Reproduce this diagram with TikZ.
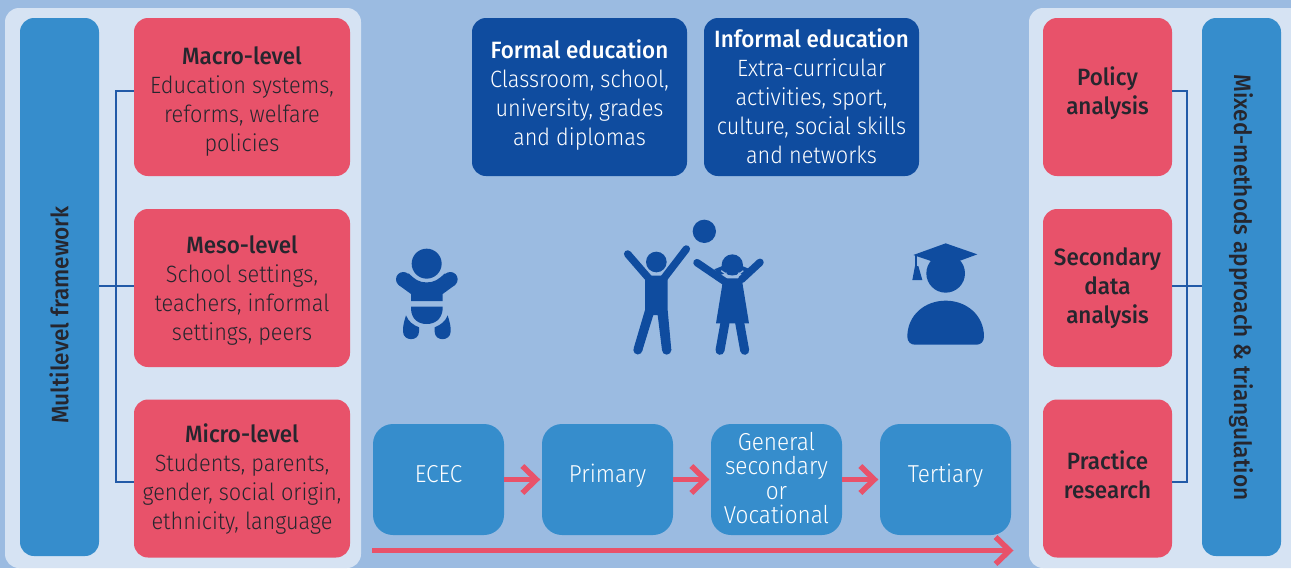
\documentclass[tikz,border=0pt]{standalone}
\usepackage{fontspec}
\setmainfont{Fira Sans Light}[FakeStretch=0.92,BoldFont={Fira Sans Medium},BoldFeatures={FakeStretch=0.95}]
\usetikzlibrary{arrows.meta}
\definecolor{bgc}{HTML}{9BBBE1}
\definecolor{panelc}{HTML}{D6E3F3}
\definecolor{redc}{HTML}{E8526A}
\definecolor{bluec}{HTML}{368DCC}
\definecolor{darkc}{HTML}{0F4C9F}
\definecolor{inkc}{HTML}{26262E}
\tikzset{
  box/.style={inner sep=0pt,rounded corners=14pt,align=center,font=\fontsize{23.6}{29}\selectfont,text depth=0pt},
  redbox/.style={box,fill=redc,text=inkc},
  darkbox/.style={box,fill=darkc,text=white},
  stagebox/.style={box,fill=bluec,text=white,minimum width=131pt,minimum height=111pt,rounded corners=20pt,font=\fontsize{24.5}{24.4}\selectfont,text depth=12pt},
  sidebox/.style={box,fill=bluec,minimum width=79pt,minimum height=538pt},
  sidetext/.style={text=inkc,font=\fontsize{23.8}{29}\selectfont\bfseries},
  link/.style={draw=darkc!92!white,line width=2.3pt},
  flow/.style={draw=redc,line width=5.5pt,shorten >=1.5pt,-{Straight Barb[length=14pt,width=27pt,line width=5.5pt]}},
  icon/.style={fill=darkc,draw=none},
  limb/.style={draw=darkc,line cap=round}
}
\begin{document}
\begin{tikzpicture}[x=1pt,y=-1pt]
\useasboundingbox (0,0) rectangle (1291,568);
\fill[bgc] (0,0) rectangle (1291,568);
\fill[panelc,rounded corners=14pt] (5,8) rectangle (361,568);
\fill[panelc,rounded corners=14pt] (1029,8) rectangle (1310,568);

\node[sidebox] (multi) at (59.5,287) {};
\node[redbox,minimum width=216pt,minimum height=158pt] (macro) at (242,97) {\rule{0pt}{21.5pt}\textbf{Macro-level}\\Education systems,\\reforms, welfare\\policies};
\node[redbox,minimum width=216pt,minimum height=158pt] (meso) at (242,288) {\textbf{Meso-level}\\School settings,\\teachers, informal\\settings, peers};
\node[redbox,minimum width=216pt,minimum height=158pt,text depth=4pt] (micro) at (242,478.5) {\textbf{Micro-level}\\Students, parents,\\gender, social origin,\\ethnicity, language};
\node[sidebox] (mixed) at (1241.5,287) {};
\node[redbox,minimum width=129pt,minimum height=158pt,text depth=12pt] (policy) at (1107.5,97) {\textbf{Policy}\\\textbf{analysis}};
\node[redbox,minimum width=129pt,minimum height=158pt,text depth=5pt] (second) at (1107.5,288) {\textbf{Secondary}\\\textbf{data}\\\textbf{analysis}};
\node[redbox,minimum width=129pt,minimum height=158pt,text depth=8pt] (practice) at (1107.5,478.5) {\textbf{Practice}\\\textbf{research}};
\node[rotate=90,sidetext] (multitext) at (59,315) {Multilevel framework};
\node[rotate=-90,sidetext] (mixedtext) at (1241,287.5) {Mixed-methods approach \& triangulation};

\coordinate (macrol) at (134,91);
\coordinate (microl) at (134,482);
\coordinate (policyr) at (1172,91);
\coordinate (practicer) at (1172,482);
\draw[link] (macrol) -- (116,91) -- (116,482) -- (microl);
\draw[link] (multi.east |- 0,286) -- (meso.west |- 0,286);
\draw[link] (policyr) -- (1187,91) -- (1187,482) -- (practicer);
\draw[link] (second.east |- 0,286) -- (mixed.west |- 0,286);

\node[darkbox,minimum width=215pt,minimum height=158pt,text depth=8pt] (formal) at (579.5,97) {\textbf{Formal education}\\Classroom, school,\\university, grades\\and diplomas};
\node[darkbox,minimum width=215pt,minimum height=158pt,text depth=1pt] (informal) at (811.5,97) {\textbf{Informal education}\\Extra-curricular\\activities, sport,\\culture, social skills\\and networks};

\node[stagebox] (ecec) at (438.5,479.5) {ECEC};
\node[stagebox] (primary) at (607.5,479.5) {Primary};
\node[stagebox,text depth=3pt] (secondary) at (776.5,479.5) {General\\secondary\\or\\Vocational};
\node[stagebox] (tertiary) at (945.5,479.5) {Tertiary};
\draw[flow] (ecec.east) -- (primary.west);
\draw[flow] (primary.east) -- (secondary.west);
\draw[flow] (secondary.east) -- (tertiary.west);
\coordinate (tstart) at (372,550.5);
\coordinate (tend) at (1015,550.5);
\draw[flow] (tstart) -- (tend);

% baby
\begin{scope}[shift={(380,210)},x=1/3*1pt,y=-1/3*1pt]
\fill[icon] (140,161) circle (45);
\fill[icon] (70,208) circle (22);
\fill[icon] (211,208) circle (22);
\fill[icon] (93,273) -- (93,252) -- (56,225) -- (86,190) .. controls (105,208) and (115,217) .. (140,217) .. controls (165,217) and (175,208) .. (195,190) -- (225,225) -- (188,252) -- (188,273) -- cycle;
\fill[icon] (93,290) -- (188,290) -- (188,298) .. controls (185,328) and (165,342) .. (140,342) .. controls (115,342) and (95,328) .. (93,298) -- cycle;
\fill[icon] (78,316) .. controls (72,335) and (68,350) .. (69,365) .. controls (70,395) and (117,395) .. (117,365) -- (117,352) .. controls (100,345) and (85,335) .. (78,316) -- cycle;
\fill[icon] (203,316) .. controls (209,335) and (213,350) .. (212,365) .. controls (211,395) and (164,395) .. (164,365) -- (164,352) .. controls (181,345) and (196,335) .. (203,316) -- cycle;
\end{scope}

% children
\begin{scope}[shift={(380,210)},x=1/3*1pt,y=-1/3*1pt]
\fill[icon] (973,64) circle (35);
\fill[icon] (829,156) circle (31);
\draw[limb,line width=7.5pt] (743,132) -- (808,207);
\draw[limb,line width=7.5pt] (919,117) -- (850,207);
\fill[icon] (795,197) -- (863,197) -- (863,300) -- (874,420) -- (846,420) -- (833,315) -- (820,315) -- (786,425) -- (761,415) -- (795,300) -- cycle;
\fill[icon] (773.5,420) circle (13.5);
\fill[icon] (860,420) circle (14);
\fill[icon] (1057,165) circle (32);
\fill[icon] (1027,168) -- (1003,178) -- (1018,196) -- (1035,190) -- cycle;
\fill[icon] (1087,168) -- (1110,178) -- (1096,196) -- (1079,190) -- cycle;
\draw[limb,line width=7.5pt] (951,158) -- (1035,215);
\draw[limb,line width=7.5pt] (1140,157) -- (1085,208);
\fill[icon] (1030,205) -- (1085,205) -- (1107,340) -- (1008,340) -- cycle;
\draw[limb,line width=9pt] (1035,338) -- (1020,421);
\draw[limb,line width=9pt] (1079,338) -- (1094,421);
\draw[bgc,line width=1.2pt] (1024,182) .. controls (1030,190) and (1036,190) .. (1040,190) (1074,190) .. controls (1078,190) and (1084,190) .. (1090,182);
\draw[bgc,line width=1.2pt] (1034,190) .. controls (1036,202) and (1078,202) .. (1080,190);
\end{scope}

% graduate
\begin{scope}[shift={(880,230)},x=1/3*1pt,y=-1/3*1pt]
\fill[icon] (197,130) circle (58);
\fill[icon] (100,75) -- (197,40) -- (292,73) -- (197,108) -- cycle;
\fill[icon] (104,75) rectangle (110,112);
\fill[icon] (105,108) -- (115,108) -- (127,150) -- (97,150) -- cycle;
\fill[icon] (82,320) .. controls (82,255) and (135,212) .. (197,212) .. controls (259,212) and (312,255) .. (312,320) .. controls (312,335) and (302,344) .. (290,344) -- (104,344) .. controls (92,344) and (82,335) .. (82,320) -- cycle;
\end{scope}
\end{tikzpicture}
\end{document}
